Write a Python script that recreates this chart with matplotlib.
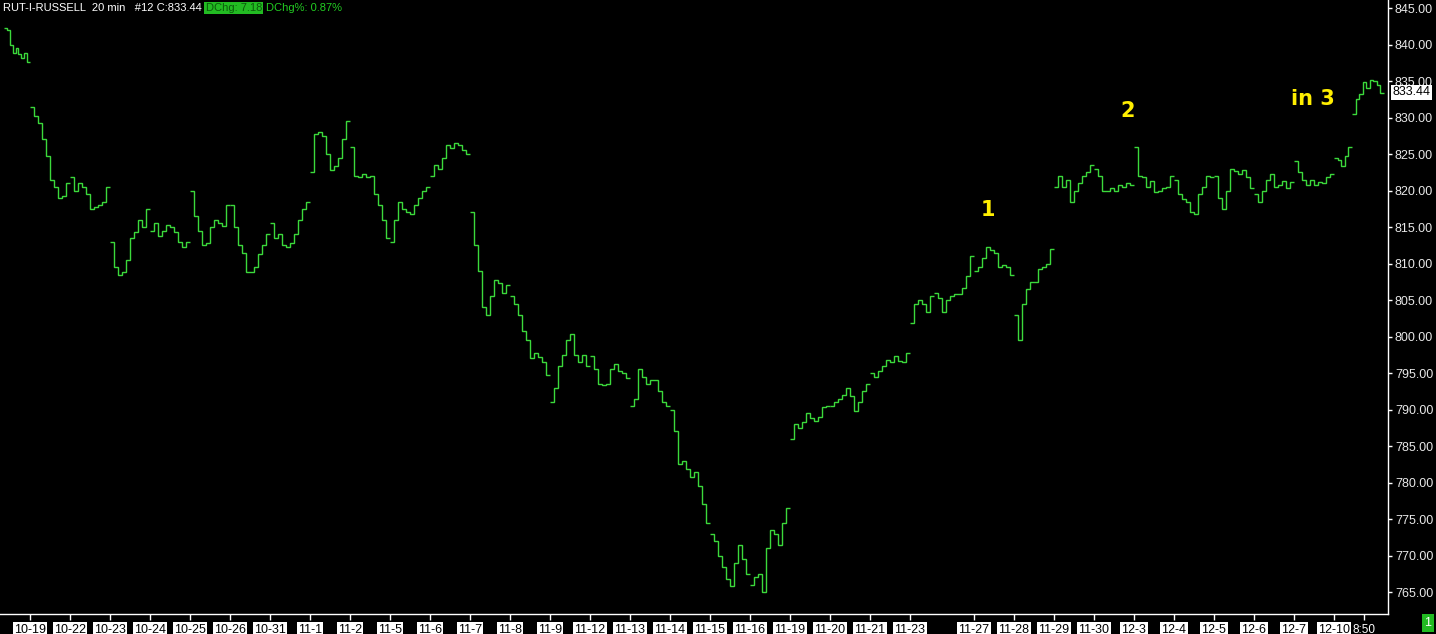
import numpy as np
import matplotlib
matplotlib.use("Agg")
import matplotlib.pyplot as plt

plt.rcParams['font.family'] = ['Liberation Sans', 'DejaVu Sans']

# 20 min bars, prices (one value per ~2 bars)
d1018 = [842.3, 842.0, 840.0, 838.8, 839.5, 838.7, 838.2, 838.8, 837.6]
d1019 = [831.5, 830.2, 829.3, 827.0, 824.8, 821.5, 820.5, 819.0, 819.3, 821.0]
d1022 = [821.8, 820.0, 821.0, 820.5, 819.5, 817.5, 817.8, 818.0, 818.5, 820.5]
d1023 = [813.0, 809.5, 808.5, 808.8, 810.5, 813.5, 814.3, 816.0, 815.0, 817.5]
d1024 = [814.5, 815.5, 813.8, 814.5, 815.3, 815.0, 814.3, 813.0, 812.3, 813.0]
d1025 = [820.0, 816.5, 814.5, 812.5, 812.8, 815.0, 816.0, 815.5, 815.2, 818.0]
d1026 = [818.0, 815.0, 812.5, 811.5, 808.8, 808.8, 809.5, 811.3, 812.5, 814.0]
d1031 = [815.5, 813.5, 814.0, 812.5, 812.3, 812.8, 814.0, 816.0, 817.5, 818.5]
d1101 = [822.5, 827.8, 828.0, 827.5, 825.0, 822.8, 823.3, 824.5, 827.0, 829.5]
d1102 = [826.0, 822.0, 821.8, 822.2, 821.8, 822.0, 819.5, 818.0, 816.0, 813.5]
d1105 = [813.0, 816.0, 818.5, 817.5, 817.0, 816.8, 818.0, 819.0, 820.0, 820.5]
d1106 = [822.0, 823.5, 823.0, 824.5, 826.2, 825.8, 826.5, 826.3, 825.5, 825.0]
d1107 = [817.0, 812.5, 809.0, 804.0, 803.0, 805.5, 807.8, 807.3, 806.0, 807.0]
d1108 = [805.5, 804.5, 803.0, 800.8, 799.5, 797.0, 797.8, 797.2, 796.5, 794.8]
d1109 = [791.0, 793.0, 796.0, 797.5, 799.5, 800.3, 797.5, 796.5, 797.5, 796.0]
d1112 = [797.3, 795.5, 793.5, 793.3, 793.5, 795.5, 796.3, 795.3, 795.0, 794.3]
d1113 = [790.5, 791.5, 795.5, 794.5, 793.5, 794.0, 794.0, 792.5, 791.0, 790.5]
d1114 = [790.0, 787.0, 782.5, 783.0, 781.8, 780.8, 781.5, 779.5, 777.0, 774.5]
d1115 = [773.0, 772.0, 770.0, 768.5, 766.8, 765.8, 769.0, 771.5, 769.5, 767.5]
d1116 = [766.0, 767.0, 767.5, 765.0, 771.0, 773.5, 773.0, 771.5, 774.5, 776.5]
d1119 = [786.0, 788.0, 787.5, 788.3, 789.5, 788.8, 788.5, 789.0, 790.3, 790.5]
d1120 = [790.5, 791.0, 791.5, 792.0, 793.0, 791.8, 789.8, 791.0, 792.5, 793.5]
d1121 = [795.0, 794.5, 795.3, 796.0, 796.8, 796.5, 797.3, 796.7, 796.5, 797.8]
d1123 = [801.8, 804.5, 805.0, 804.5, 803.3, 805.5]
d1126 = [806.0, 805.3, 803.3, 805.0, 805.5, 805.8, 805.8, 806.7, 808.3, 811.0]
d1127 = [809.0, 809.5, 810.8, 812.3, 811.8, 811.5, 809.5, 809.8, 809.5, 808.5]
d1128 = [803.0, 799.5, 804.5, 806.5, 807.5, 807.5, 809.3, 809.5, 810.0, 812.0]
d1129 = [820.5, 822.0, 820.5, 821.5, 818.5, 820.0, 821.0, 822.0, 822.5, 823.5]
d1130 = [823.0, 822.0, 820.0, 820.0, 820.3, 820.0, 820.8, 820.5, 821.0, 820.8]
d1203 = [826.0, 822.0, 821.8, 820.5, 821.3, 819.8, 820.0, 820.3, 820.5, 822.0]
d1204 = [821.5, 819.5, 818.8, 818.5, 817.0, 816.8, 819.5, 820.5, 822.0, 821.8]
d1205 = [822.0, 819.0, 817.5, 820.0, 823.0, 822.7, 822.3, 822.8, 821.8, 820.3]
d1206 = [819.5, 818.5, 820.0, 821.5, 822.3, 820.5, 820.8, 821.3, 820.3, 821.2]
d1207 = [824.0, 822.5, 821.5, 820.8, 821.5, 820.8, 821.2, 821.0, 821.9, 822.2]
d1210 = [824.5, 824.2, 823.3, 824.8, 826.0]
d1211 = [830.5, 832.5, 833.2, 834.8, 834.0, 835.1, 835.0, 834.5, 833.4]

sessions = [d1018, d1019, d1022, d1023, d1024, d1025, d1026, d1031, d1101,
            d1102, d1105, d1106, d1107, d1108, d1109, d1112, d1113, d1114,
            d1115, d1116, d1119, d1120, d1121, d1123, d1126, d1127, d1128,
            d1129, d1130, d1203, d1204, d1205, d1206, d1207, d1210, d1211]
day_labels = ['', '10-19', '10-22', '10-23', '10-24', '10-25', '10-26', '10-31',
              '11-1', '11-2', '11-5', '11-6', '11-7', '11-8', '11-9', '11-12',
              '11-13', '11-14', '11-15', '11-16', '11-19', '11-20', '11-21',
              '11-23', '', '11-27', '11-28', '11-29', '11-30', '12-3', '12-4',
              '12-5', '12-6', '12-7', '12-10', '']
# number of 20 min bars in each session shown
day_bars = [13] + [20] * 22 + [12] + [20] * 10 + [9, 16]

last_price = 833.44
notes = [('1', 494, 817.3), ('2', 564, 830.9), ('in 3', 656.5, 832.5)]

green = '#3bd93b'

fig = plt.figure(figsize=(14.36, 6.34), dpi=100, facecolor='black')
ax = fig.add_axes([0, 20 / 634, 1388 / 1436, 614 / 634])
ax.set_facecolor('black')

starts = 2 + np.concatenate([[0], np.cumsum(day_bars)[:-1]])
for vals, s, n in zip(sessions, starts, day_bars):
    edges = np.linspace(s, s + n, len(vals) + 1)
    ax.stairs(vals, edges, baseline=None, color=green, lw=1.0)

ax.set_xlim(0, 694)
ax.set_ylim(762.0, 846.1)

for sp in ['left', 'top']:
    ax.spines[sp].set_visible(False)
for sp in ['bottom', 'right']:
    ax.spines[sp].set_color('white')
    ax.spines[sp].set_linewidth(1)

# x ticks at session starts
tick_pos = [s for s, lab in zip(starts, day_labels) if lab]
tick_lab = [lab for lab in day_labels if lab]
tick_pos.append(starts[-1] + 6)
tick_lab.append('8:50')
ax.set_xticks(tick_pos)
ax.set_xticklabels(tick_lab)
ax.tick_params(axis='x', colors='white', length=4, width=1, pad=3,
               labelsize=9, labelcolor='black')
for t in ax.get_xticklabels():
    if t.get_text() == '8:50':
        t.set_color('white')
        t.set_fontsize(8.5)
    else:
        t.set_bbox(dict(facecolor='white', edgecolor='none', pad=1.0))

ax.yaxis.tick_right()
ax.set_yticks(np.arange(765, 846, 5))
ax.set_yticklabels(['%.2f' % v for v in np.arange(765, 846, 5)])
ax.tick_params(axis='y', colors='white', length=3, width=1, pad=2,
               labelsize=9, labelcolor='#e8e8e8')

# last price box
ax.annotate('%.2f' % last_price, xy=(1.0, last_price),
            xycoords=('axes fraction', 'data'), xytext=(3, 0),
            textcoords='offset points', va='center', ha='left',
            fontsize=9, color='black',
            bbox=dict(facecolor='white', edgecolor='none', pad=1))

for txt, xb, yv in notes:
    ax.text(xb, yv, txt, color='#ffee00', fontsize=15, fontweight='bold',
            ha='center', va='center', family='DejaVu Sans')

# header, texts laid out one after another
renderer = fig.canvas.get_renderer()
hx = 3 / 1436
hy = 1 - 8 / 634
head = [('RUT-I-RUSSELL  20 min   #12 C:833.44', 'white', None, 4),
        ('DChg: 7.18', '#0b5a0b', '#22bb22', 4),
        ('DChg%: 0.87%', '#22cc22', None, 0)]
for txt, col, bg, gap in head:
    kw = {}
    if bg:
        kw['bbox'] = dict(facecolor=bg, edgecolor='none', pad=1)
    t = fig.text(hx, hy, txt, color=col, fontsize=8, va='center',
                 ha='left', **kw)
    bb = t.get_window_extent(renderer)
    hx = (bb.x1 + gap) / 1436

# bottom-right box
fig.text(1428 / 1436, 1 - 623 / 634, '1', color='white', fontsize=9,
         va='center', ha='center',
         bbox=dict(facecolor='#22bb22', edgecolor='none', pad=2))

fig.savefig('out.png', dpi=100, facecolor='black')
